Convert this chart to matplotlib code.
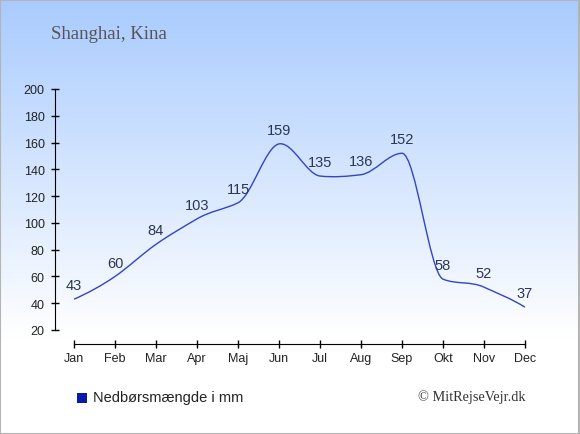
import matplotlib
matplotlib.use("Agg")
import matplotlib.pyplot as plt
import numpy as np
from matplotlib.path import Path
from matplotlib.patches import PathPatch, Rectangle
from matplotlib.colors import LinearSegmentedColormap

months = ["Jan", "Feb", "Mar", "Apr", "Maj", "Jun", "Jul", "Aug", "Sep", "Okt", "Nov", "Dec"]
rain = [43, 60, 84, 103, 115, 159, 135, 136, 152, 58, 52, 37]
title = "Shanghai, Kina"
legend_label = "Nedbørsmængde i mm"
credit = "© MitRejseVejr.dk"
yticks = [20, 40, 60, 80, 100, 120, 140, 160, 180, 200]

W, H = 580, 435
fig = plt.figure(figsize=(W / 100, H / 100), dpi=100)

# gradient background
bg = fig.add_axes([0, 0, 1, 1], zorder=-10)
bg.set_axis_off()
cmap = LinearSegmentedColormap.from_list("bg", [(0.0, "#a9cbfe"), (0.78, "#ffffff"), (1.0, "#ffffff")])
grad = np.linspace(0, 1, 256).reshape(-1, 1)
bg.imshow(grad, aspect="auto", cmap=cmap, extent=[0, 1, 0, 1], origin="upper")
bg.set_xlim(0, 1)
bg.set_ylim(0, 1)
bg.add_patch(Rectangle((0.0008, 0.001), 0.998, 0.997, fill=False, edgecolor="#b4b4b4", linewidth=1.5))

left, right, top, bottom = 55, 525, 90, 331
ax = fig.add_axes([left / W, (H - bottom) / H, (right - left) / W, (bottom - top) / H])
ax.set_facecolor("none")
pxm = 41.0
ax.set_xlim(-(74 - left) / pxm, 11)
ax.set_ylim(20, 200)

# Akima-style smooth curve through the data points (drawn as Bezier segments)
x = np.arange(len(rain), dtype=float)
y = np.array(rain, dtype=float)
n = len(y)
m = np.diff(y)  # secants (dx = 1)
mm = np.empty(n + 3)
mm[2:n + 1] = m
mm[1] = 2 * mm[2] - mm[3]
mm[0] = 2 * mm[1] - mm[2]
mm[n + 1] = 2 * mm[n] - mm[n - 1]
mm[n + 2] = 2 * mm[n + 1] - mm[n]
slopes = np.empty(n)
for i in range(n):
    w1 = abs(mm[i + 3] - mm[i + 2])
    w2 = abs(mm[i + 1] - mm[i])
    if w1 + w2 == 0:
        slopes[i] = 0.5 * (mm[i + 1] + mm[i + 2])
    else:
        slopes[i] = (w1 * mm[i + 1] + w2 * mm[i + 2]) / (w1 + w2)

verts = [(x[0], y[0])]
codes = [Path.MOVETO]
for i in range(1, n):
    verts += [(x[i - 1] + 1 / 3, y[i - 1] + slopes[i - 1] / 3),
              (x[i] - 1 / 3, y[i] - slopes[i] / 3),
              (x[i], y[i])]
    codes += [Path.CURVE4] * 3
ax.add_patch(PathPatch(Path(verts, codes), fill=False, edgecolor="#3344c4", linewidth=1.0, zorder=3))

for xi, v in zip(x, rain):
    ax.annotate(str(v), (xi, v), xytext=(0, 10), textcoords="offset points",
                ha="center", va="center", fontsize=10.5, color="#2b3652",
                family="Liberation Sans", zorder=4)

ax.set_xticks(x)
ax.set_xticklabels(months)
ax.set_yticks(yticks)
for sp in ["top", "right"]:
    ax.spines[sp].set_visible(False)
ax.spines["bottom"].set_bounds(0, 11)
ax.spines["bottom"].set_position(("outward", 10))
ax.spines["left"].set_bounds(20, 200)
ax.tick_params(axis="both", direction="inout", length=6, width=1, labelsize=9,
               labelcolor="#222222")
ax.tick_params(axis="y", pad=4.5)
ax.tick_params(axis="x", pad=3)
for lab in ax.get_xticklabels() + ax.get_yticklabels():
    lab.set_family("Liberation Sans")

fig.text(51 / W, 1 - 39 / H, title, ha="left", va="baseline", fontsize=13.5,
         color="#555555", family="Liberation Serif")
fig.patches.append(Rectangle((77 / W, 1 - 404 / H), 10 / W, 10 / H, transform=fig.transFigure,
                             facecolor="#0a1aa8", edgecolor="none", figure=fig))
fig.text(93 / W, 1 - 398 / H, legend_label, ha="left", va="center", fontsize=10.5,
         color="#222222", family="Liberation Sans")
fig.text(526 / W, 1 - 397 / H, credit, ha="right", va="center", fontsize=10.3,
         color="#333333", family="Liberation Serif")

fig.savefig("out.png", dpi=100)
